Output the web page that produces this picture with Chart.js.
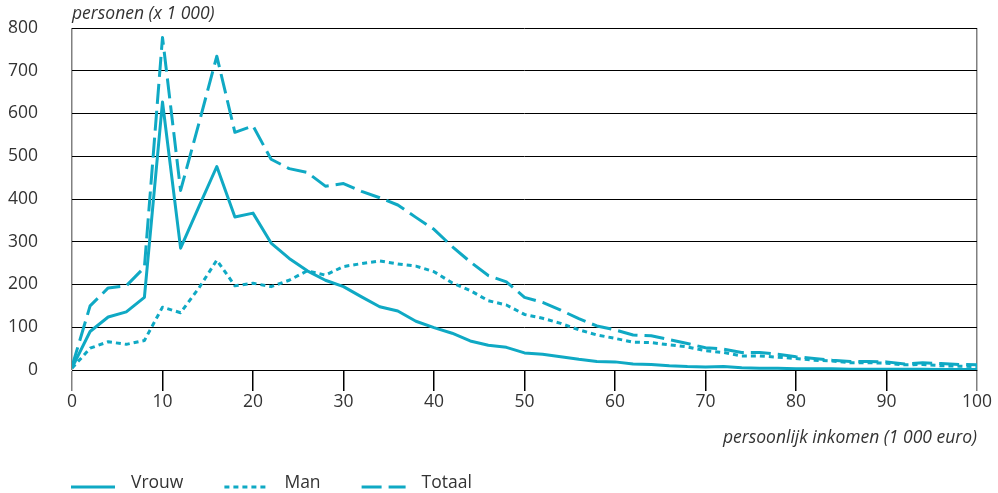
<!DOCTYPE html>
<html>
<head>
<meta charset="utf-8">
<script src="https://cdn.jsdelivr.net/npm/chart.js@4"></script>
<style>
    html, body { margin: 0; padding: 0; background: #fff; }
    #wrap { width: 998px; height: 493px; }
</style>
</head>
<body>
<div id="wrap"><canvas id="incomeChart" width="998" height="493"></canvas></div>
<script>
// Inkomen (x 1 000 euro), stappen van 2
const incomes = [0, 2, 4, 6, 8, 10, 12, 14, 16, 18, 20, 22, 24, 26, 28, 30, 32, 34, 36, 38, 40,
    42, 44, 46, 48, 50, 52, 54, 56, 58, 60, 62, 64, 66, 68, 70, 72, 74, 76, 78, 80,
    82, 84, 86, 88, 90, 92, 94, 96, 98, 100];

// Personen (x 1 000)
const vrouw = [5, 90, 124, 136, 170, 627, 285, 381, 476, 358, 367, 297, 261, 232, 210, 195, 171, 148, 138, 114, 99,
    86, 68, 58, 53, 40, 37, 31, 25, 20, 19, 14, 13, 10, 8, 7, 8, 5, 4, 4, 3,
    3, 3, 2, 2, 2, 2, 2, 1, 1, 1];
const man = [4, 51, 66, 60, 69, 147, 134, 191, 257, 197, 203, 195, 210, 232, 222, 242, 249, 255, 248, 243, 230,
    204, 186, 162, 152, 130, 121, 109, 94, 82, 74, 65, 64, 59, 54, 45, 41, 33, 33, 30, 27,
    23, 21, 17, 17, 16, 12, 13, 10, 9, 8];
const totaal = [8, 150, 192, 197, 240, 778, 420, 575, 734, 556, 571, 493, 471, 462, 430, 436, 418, 403, 386, 357, 329,
    289, 253, 221, 206, 170, 158, 140, 120, 103, 94, 82, 80, 71, 62, 52, 49, 41, 41, 37, 31,
    27, 23, 20, 20, 19, 14, 17, 15, 13, 12];

const seriesLabels = ['Vrouw', 'Man', 'Totaal'];
const xTicks = [0, 10, 20, 30, 40, 50, 60, 70, 80, 90, 100];
const yTicks = [0, 100, 200, 300, 400, 500, 600, 700, 800];

const LINE = '#0fa9c4';
const TEXT = '#333333';
const FONT = "'Open Sans', sans-serif";
const SIZE = 17.5;

function toPoints(values) {
    return incomes.map((x, i) => ({ x: x, y: values[i] }));
}

// Titel linksboven en legenda onderaan
const extras = {
    id: 'extras',
    afterDraw(chart) {
        const ctx = chart.ctx;
        const area = chart.chartArea;
        ctx.save();
        ctx.fillStyle = TEXT;
        ctx.font = 'italic ' + SIZE + 'px ' + FONT;
        ctx.textBaseline = 'middle';
        ctx.textAlign = 'left';
        ctx.fillText('personen (x 1 000)', area.left, 14);

        ctx.font = SIZE + 'px ' + FONT;
        let x = area.left - 1;
        const y = 487;
        chart.data.datasets.forEach(ds => {
            ctx.strokeStyle = ds.borderColor;
            ctx.lineWidth = 3;
            ctx.setLineDash(ds.borderDash || []);
            ctx.beginPath();
            ctx.moveTo(x, y);
            ctx.lineTo(x + 44, y);
            ctx.stroke();
            ctx.setLineDash([]);
            ctx.fillText(ds.label, x + 60, y - 4);
            x += 60 + ctx.measureText(ds.label).width + 41;
        });
        ctx.restore();
    }
};

new Chart(document.getElementById('incomeChart'), {
    type: 'line',
    data: {
        datasets: [
            { label: seriesLabels[0], data: toPoints(vrouw), borderColor: LINE, borderWidth: 3, borderDash: [] },
            { label: seriesLabels[1], data: toPoints(man), borderColor: LINE, borderWidth: 3, borderDash: [5, 4] },
            { label: seriesLabels[2], data: toPoints(totaal), borderColor: LINE, borderWidth: 3, borderDash: [20, 7] }
        ]
    },
    options: {
        responsive: false,
        animation: false,
        events: [],
        layout: { padding: { top: 28, right: 21, left: 0, bottom: 0 } },
        elements: { point: { radius: 0 }, line: { tension: 0, borderJoinStyle: 'round' } },
        plugins: { legend: { display: false }, tooltip: { enabled: false } },
        scales: {
            x: {
                type: 'linear',
                min: 0,
                max: 100,
                afterBuildTicks: scale => { scale.ticks = xTicks.map(v => ({ value: v })); },
                afterFit: scale => { scale.height = 123; },
                border: { display: true, color: '#000', width: 1 },
                grid: {
                    drawOnChartArea: true,
                    tickLength: 21,
                    color: c => (c.index === 0 || c.index === xTicks.length - 1) ? '#808080' : 'rgba(0,0,0,0)',
                    tickColor: c => (c.index === 0 || c.index === xTicks.length - 1) ? '#808080' : '#000',
                    lineWidth: 1.5
                },
                ticks: { color: TEXT, font: { family: FONT, size: SIZE }, padding: 1, maxRotation: 0 },
                title: {
                    display: true,
                    text: 'persoonlijk inkomen (1 000 euro)',
                    align: 'end',
                    color: TEXT,
                    font: { family: FONT, size: SIZE, style: 'italic' },
                    padding: { top: 0, bottom: 44 }
                }
            },
            y: {
                min: 0,
                max: 800,
                afterBuildTicks: scale => { scale.ticks = yTicks.map(v => ({ value: v })); },
                afterFit: scale => {
                    scale.width = 72;
                    scale.paddingTop = 0;
                    scale.paddingBottom = 0;
                },
                border: { display: false },
                grid: { color: '#000', lineWidth: 1, drawTicks: false },
                ticks: { color: TEXT, font: { family: FONT, size: SIZE }, padding: 34 }
            }
        }
    },
    plugins: [extras]
});
</script>
</body>
</html>
